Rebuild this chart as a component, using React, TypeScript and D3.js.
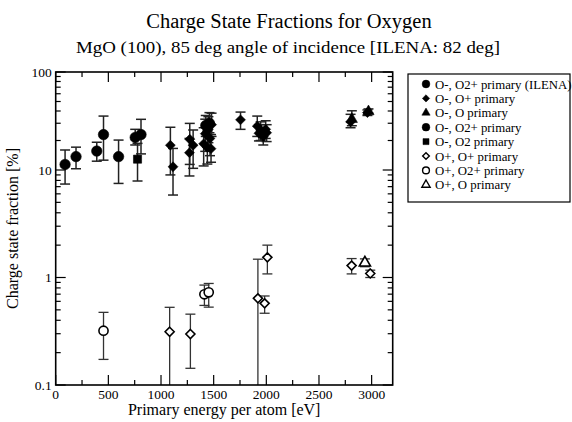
import React from "react";
import * as d3 from "d3";

// ---------- data ----------
type Pt = { e: number; v: number; lo: number; hi: number };

const ilenaE = [89, 193, 390, 454, 597, 755, 810];
const ilenaV = [11.4, 13.7, 15.6, 23.0, 13.7, 21.5, 23.0];
const ilenaLo = [7.4, 10.3, 12.3, 12.6, 7.5, 18.0, 14.6];
const ilenaHi = [16.0, 17.1, 19.2, 35.5, 20.2, 26.0, 32.9];

const negOpE = [1089, 1114, 1273, 1270, 1305, 1405, 1420, 1440, 1450, 1465, 1475, 1480, 1755, 1914, 1930, 1946, 1971, 1994, 2003, 2800, 2960];
const negOpV = [17.9, 10.8, 20.6, 15.0, 17.9, 18.5, 23.5, 17.0, 26.0, 21.0, 16.5, 29.0, 32.5, 28.0, 23.7, 25.6, 21.9, 26.0, 24.0, 31.0, 38.5];
const negOpLo = [9.0, 5.85, 11.4, 8.8, 10.4, 11.0, 15.5, 11.5, 19.0, 14.0, 12.0, 22.0, 26.0, 22.0, 19.8, 20.0, 18.0, 21.0, 19.5, 27.0, 36.0];
const negOpHi = [27.3, 16.6, 29.9, 21.0, 25.6, 27.0, 33.0, 25.0, 35.0, 30.0, 23.0, 38.0, 39.0, 35.5, 29.0, 31.0, 26.0, 31.8, 29.0, 37.0, 41.0];

const negOE = [2812, 2970];
const negOV = [33.0, 39.5];
const negOLo = [28.3, 38.0];
const negOHi = [40.2, 42.0];

const negO2pE = [1425, 1460];
const negO2pV = [28.5, 30.0];
const negO2pLo = [22.0, 24.0];
const negO2pHi = [36.0, 38.5];

const negO2E = [777];
const negO2V = [12.9];
const negO2Lo = [7.9];
const negO2Hi = [18.7];

const posOpE = [1082, 1279, 1920, 1984, 2010, 2810, 2987];
const posOpV = [0.313, 0.298, 0.64, 0.575, 1.54, 1.29, 1.09];
const posOpLo = [0, 0.143, 0, 0.465, 1.08, 1.08, 1.0];
const posOpHi = [0.528, 0.456, 1.48, 0.673, 2.0, 1.5, 1.17];

const posO2pE = [454, 1412, 1453];
const posO2pV = [0.32, 0.698, 0.728];
const posO2pLo = [0.173, 0.55, 0.53];
const posO2pHi = [0.474, 0.85, 0.88];

const posOE = [2936];
const posOV = [1.37];
const posOLo = [1.26];
const posOHi = [1.49];

const xTickLabels = ["0", "500", "1000", "1500", "2000", "2500", "3000"];
const yTickLabels = ["0.1", "1", "10", "100"];

const legendLabels = [
  "O-, O2+ primary (ILENA)",
  "O-, O+ primary",
  "O-, O primary",
  "O-, O2+ primary",
  "O-, O2 primary",
  "O+, O+ primary",
  "O+, O2+ primary",
  "O+, O primary",
];

const zip = (e: number[], v: number[], lo: number[], hi: number[]): Pt[] =>
  e.map((d, i) => ({ e: d, v: v[i], lo: lo[i], hi: hi[i] }));

type Shape = "circle" | "diamond" | "triangle" | "square";
const series: { shape: Shape; filled: boolean; pts: Pt[] }[] = [
  { shape: "circle", filled: true, pts: zip(ilenaE, ilenaV, ilenaLo, ilenaHi) },
  { shape: "diamond", filled: true, pts: zip(negOpE, negOpV, negOpLo, negOpHi) },
  { shape: "triangle", filled: true, pts: zip(negOE, negOV, negOLo, negOHi) },
  { shape: "circle", filled: true, pts: zip(negO2pE, negO2pV, negO2pLo, negO2pHi) },
  { shape: "square", filled: true, pts: zip(negO2E, negO2V, negO2Lo, negO2Hi) },
  { shape: "diamond", filled: false, pts: zip(posOpE, posOpV, posOpLo, posOpHi) },
  { shape: "circle", filled: false, pts: zip(posO2pE, posO2pV, posO2pLo, posO2pHi) },
  { shape: "triangle", filled: false, pts: zip(posOE, posOV, posOLo, posOHi) },
];

// ---------- layout ----------
const W = 572;
const H = 422;
const L = 55.7;
const R = 392.7;
const T = 72;
const B = 385;
const FONT = "'Liberation Serif', 'DejaVu Serif', serif";

const x = d3.scaleLinear().domain([0, 3200]).range([L, R]);
const y = d3.scaleLog().domain([0.1, 10, 100]).range([B, 170, T]).clamp(true);

const symType = (shape: Shape) =>
  shape === "circle"
    ? d3.symbolCircle
    : shape === "diamond"
    ? d3.symbolDiamond2
    : shape === "triangle"
    ? d3.symbolTriangle
    : d3.symbolSquare;

const symbolPath = (shape: Shape, filled: boolean, scale: number) => {
  const size =
    shape === "circle" ? (filled ? 86 : 66) : shape === "diamond" ? (filled ? 62 : 52) : shape === "triangle" ? 54 : 66;
  return d3.symbol().type(symType(shape)).size(size * scale)() as string;
};

export default function App() {
  const xMajor = d3.range(0, 3001, 500);
  const xMinor = d3.range(250, 3200, 500);
  const yMajor = [0.1, 1, 10, 100];
  const yMinor: number[] = [];
  [0.1, 1, 10].forEach((d) => {
    for (let k = 2; k <= 9; k++) yMinor.push(d * k);
  });

  return (
    <div style={{ position: "absolute", left: 0, top: 0 }}>
      <svg width={W} height={H} style={{ display: "block", background: "#fff" }} fontFamily={FONT}>
        <rect width={W} height={H} fill="#fff" />
        {/* titles */}
        <text x={289} y={28} textAnchor="middle" fontSize={20.5}>
          Charge State Fractions for Oxygen
        </text>
        <text x={288} y={53} textAnchor="middle" fontSize={16} textLength={424} lengthAdjust="spacingAndGlyphs">
          MgO (100), 85 deg angle of incidence [ILENA: 82 deg]
        </text>

        {/* ticks */}
        <g stroke="#000" strokeWidth={1.2}>
          {xMajor.map((d) => (
            <g key={"xm" + d}>
              <line x1={x(d)} x2={x(d)} y1={B} y2={B - 10} />
              <line x1={x(d)} x2={x(d)} y1={T} y2={T + 10} />
            </g>
          ))}
          {xMinor.map((d) => (
            <g key={"xn" + d}>
              <line x1={x(d)} x2={x(d)} y1={B} y2={B - 5} />
              <line x1={x(d)} x2={x(d)} y1={T} y2={T + 5} />
            </g>
          ))}
          {yMajor.map((d) => (
            <g key={"ym" + d}>
              <line x1={L} x2={L + 10} y1={y(d)} y2={y(d)} />
              <line x1={R} x2={R - 10} y1={y(d)} y2={y(d)} />
            </g>
          ))}
          {yMinor.map((d) => (
            <g key={"yn" + d}>
              <line x1={L} x2={L + 5} y1={y(d)} y2={y(d)} />
              <line x1={R} x2={R - 5} y1={y(d)} y2={y(d)} />
            </g>
          ))}
        </g>

        {/* tick labels */}
        {xMajor.map((d, i) => (
          <text key={"xl" + d} x={x(d)} y={B + 14} textAnchor="middle" fontSize={13.5}>
            {xTickLabels[i]}
          </text>
        ))}
        {yMajor.map((d, i) => (
          <text key={"yl" + d} x={L - 4} y={y(d) + 4.5} textAnchor="end" fontSize={13.5}>
            {yTickLabels[i]}
          </text>
        ))}

        {/* axis titles */}
        <text x={(L + R) / 2} y={B + 30} textAnchor="middle" fontSize={16}>
          Primary energy per atom [eV]
        </text>
        <text transform={`translate(18,${(T + B) / 2}) rotate(-90)`} textAnchor="middle" fontSize={16}>
          Charge state fraction [%]
        </text>

        {/* error bars */}
        {series.map((s, si) => (
          <g key={"eb" + si} stroke={s.filled ? "#222" : "#333"} strokeWidth={s.filled ? 1.5 : 1.3} fill="none">
            {s.pts.map((p, pi) => {
              const cx = x(p.e);
              const yl = y(Math.max(p.lo, 0.1));
              const yh = y(p.hi);
              return (
                <g key={pi}>
                  <line x1={cx} x2={cx} y1={yl} y2={yh} />
                  <line x1={cx - 5} x2={cx + 5} y1={yh} y2={yh} />
                  {p.lo > 0.1 && <line x1={cx - 5} x2={cx + 5} y1={yl} y2={yl} />}
                </g>
              );
            })}
          </g>
        ))}

        {/* markers */}
        {series.map((s, si) => (
          <g key={"mk" + si}>
            {s.pts.map((p, pi) => (
              <path
                key={pi}
                d={symbolPath(s.shape, s.filled, 1)}
                transform={`translate(${x(p.e)},${y(p.v)})`}
                fill={s.filled ? "#000" : "#fff"}
                stroke="#000"
                strokeWidth={s.filled ? 0.6 : 1.6}
              />
            ))}
          </g>
        ))}

        {/* frame */}
        <rect x={L} y={T} width={R - L} height={B - T} fill="none" stroke="#000" strokeWidth={1.6} />

        {/* legend */}
        <rect x={408} y={74} width={162} height={128} fill="#fff" stroke="#000" strokeWidth={1.2} />
        {series.map((s, i) => (
          <g key={"lg" + i}>
            <path
              d={symbolPath(s.shape, s.filled, 0.55)}
              transform={`translate(426,${84 + i * 14.4})`}
              fill={s.filled ? "#000" : "#fff"}
              stroke="#000"
              strokeWidth={s.filled ? 0.5 : 1.4}
            />
            <text x={435} y={84 + i * 14.4 + 4.5} fontSize={12.8}>
              {legendLabels[i]}
            </text>
          </g>
        ))}
      </svg>
    </div>
  );
}
